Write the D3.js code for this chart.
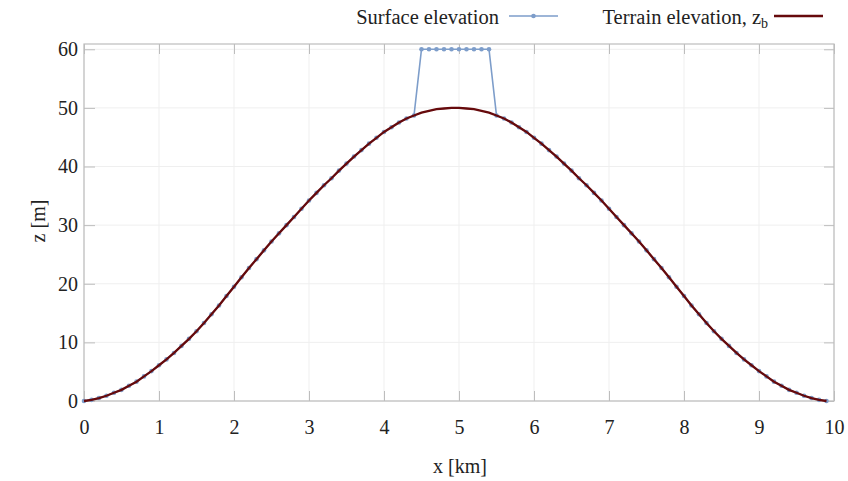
<!DOCTYPE html>
<html>
<head>
<meta charset="utf-8">
<script src="https://cdn.jsdelivr.net/npm/d3@7"></script>
<style>
  body { margin: 0; background: #fff; }
  text { font-family: "Liberation Serif", "Times New Roman", serif; fill: #222; }
</style>
</head>
<body>
<div id="chart"></div>
<script>
// x positions of the samples [km]
var xKm = [
  0.0, 0.1, 0.2, 0.3, 0.4, 0.5, 0.6, 0.7, 0.8, 0.9,
  1.0, 1.1, 1.2, 1.3, 1.4, 1.5, 1.6, 1.7, 1.8, 1.9,
  2.0, 2.1, 2.2, 2.3, 2.4, 2.5, 2.6, 2.7, 2.8, 2.9,
  3.0, 3.1, 3.2, 3.3, 3.4, 3.5, 3.6, 3.7, 3.8, 3.9,
  4.0, 4.1, 4.2, 4.3, 4.4, 4.5, 4.6, 4.7, 4.8, 4.9,
  5.0, 5.1, 5.2, 5.3, 5.4, 5.5, 5.6, 5.7, 5.8, 5.9,
  6.0, 6.1, 6.2, 6.3, 6.4, 6.5, 6.6, 6.7, 6.8, 6.9,
  7.0, 7.1, 7.2, 7.3, 7.4, 7.5, 7.6, 7.7, 7.8, 7.9,
  8.0, 8.1, 8.2, 8.3, 8.4, 8.5, 8.6, 8.7, 8.8, 8.9,
  9.0, 9.1, 9.2, 9.3, 9.4, 9.5, 9.6, 9.7, 9.8, 9.9
];

// terrain elevation z_b [m]
var terrain = [
  0.0, 0.2, 0.5, 0.9, 1.4, 1.9, 2.6, 3.3, 4.2, 5.1,
  6.1, 7.1, 8.2, 9.4, 10.6, 11.9, 13.3, 14.8, 16.3, 17.9,
  19.5, 21.1, 22.7, 24.2, 25.7, 27.2, 28.6, 30.0, 31.4, 32.8,
  34.2, 35.5, 36.8, 38.0, 39.3, 40.5, 41.7, 42.8, 43.9, 44.9,
  45.9, 46.7, 47.5, 48.2, 48.7, 49.2, 49.5, 49.8, 49.9, 50.0,
  50.0, 49.9, 49.8, 49.5, 49.2, 48.7, 48.2, 47.5, 46.7, 45.9,
  44.9, 43.9, 42.8, 41.7, 40.5, 39.3, 38.0, 36.8, 35.5, 34.2,
  32.8, 31.4, 30.0, 28.6, 27.2, 25.7, 24.2, 22.7, 21.1, 19.5,
  17.9, 16.3, 14.8, 13.3, 11.9, 10.6, 9.4, 8.2, 7.1, 6.1,
  5.1, 4.2, 3.3, 2.6, 1.9, 1.4, 0.9, 0.5, 0.2, 0.0
];

// surface elevation [m]
var surface = [
  0.0, 0.2, 0.5, 0.9, 1.4, 1.9, 2.6, 3.3, 4.2, 5.1,
  6.1, 7.1, 8.2, 9.4, 10.6, 11.9, 13.3, 14.8, 16.3, 17.9,
  19.5, 21.1, 22.7, 24.2, 25.7, 27.2, 28.6, 30.0, 31.4, 32.8,
  34.2, 35.5, 36.8, 38.0, 39.3, 40.5, 41.7, 42.8, 43.9, 44.9,
  45.9, 46.7, 47.5, 48.2, 48.7, 60, 60, 60, 60, 60,
  60, 60, 60, 60, 60, 48.7, 48.2, 47.5, 46.7, 45.9,
  44.9, 43.9, 42.8, 41.7, 40.5, 39.3, 38.0, 36.8, 35.5, 34.2,
  32.8, 31.4, 30.0, 28.6, 27.2, 25.7, 24.2, 22.7, 21.1, 19.5,
  17.9, 16.3, 14.8, 13.3, 11.9, 10.6, 9.4, 8.2, 7.1, 6.1,
  5.1, 4.2, 3.3, 2.6, 1.9, 1.4, 0.9, 0.5, 0.2, 0.0
];

var xTicks = [0, 1, 2, 3, 4, 5, 6, 7, 8, 9, 10];
var yTicks = [0, 10, 20, 30, 40, 50, 60];

var width = 848, height = 481;
var mLeft = 84, mRight = 834, mTop = 44, mBottom = 401;

var svg = d3.select("#chart").append("svg")
    .attr("width", width)
    .attr("height", height);

var x = d3.scaleLinear().domain([0, 10]).range([mLeft, mRight]);
var y = d3.scaleLinear().domain([0, 60.9]).range([mBottom, mTop]);

//grid
var grid = svg.append("g").attr("class", "grid");
grid.selectAll(".gx").data(xTicks).enter().append("line")
    .attr("x1", x).attr("x2", x)
    .attr("y1", mTop).attr("y2", mBottom)
    .attr("stroke", "#efefef");
grid.selectAll(".gy").data(yTicks).enter().append("line")
    .attr("y1", y).attr("y2", y)
    .attr("x1", mLeft).attr("x2", mRight)
    .attr("stroke", "#efefef");

//axes (ticks pointing inwards, on all four sides)
var tickCol = "#bdbdbd";
function styleAxis(g) {
    g.selectAll("path").remove();
    g.selectAll("line").attr("stroke", tickCol);
    g.selectAll("text").attr("font-size", "20px").attr("fill", "#222")
        .style("font-family", "'Liberation Serif', serif");
}
svg.append("g")
    .attr("transform", "translate(0," + mBottom + ")")
    .call(d3.axisBottom(x).tickValues(xTicks).tickSizeInner(-10).tickPadding(19).tickFormat(d3.format("d")))
    .call(styleAxis);
svg.append("g")
    .attr("transform", "translate(0," + mTop + ")")
    .call(d3.axisTop(x).tickValues(xTicks).tickSizeInner(-10).tickFormat(""))
    .call(styleAxis);
svg.append("g")
    .attr("transform", "translate(" + mLeft + ",0)")
    .call(d3.axisLeft(y).tickValues(yTicks).tickSizeInner(-11).tickPadding(6).tickFormat(d3.format("d")))
    .call(styleAxis);
svg.append("g")
    .attr("transform", "translate(" + mRight + ",0)")
    .call(d3.axisRight(y).tickValues(yTicks).tickSizeInner(-10).tickFormat(""))
    .call(styleAxis);

//frame
svg.append("rect")
    .attr("x", mLeft).attr("y", mTop)
    .attr("width", mRight - mLeft).attr("height", mBottom - mTop)
    .attr("fill", "none")
    .attr("stroke", tickCol)
    .attr("stroke-width", 1.2);

//series
var blue = "#7d9dca", red = "#660a0c";
var surfData = xKm.map(function(d, i) { return [d, surface[i]]; });
var terrData = xKm.map(function(d, i) { return [d, terrain[i]]; });
var line = d3.line().x(function(d) { return x(d[0]); }).y(function(d) { return y(d[1]); });

svg.append("path")
    .datum(surfData)
    .attr("d", line)
    .attr("fill", "none")
    .attr("stroke", blue)
    .attr("stroke-width", 1.6);
svg.append("g").selectAll("circle")
    .data(surfData).enter().append("circle")
    .attr("cx", function(d) { return x(d[0]); })
    .attr("cy", function(d) { return y(d[1]); })
    .attr("r", 2.3)
    .attr("fill", blue);

svg.append("path")
    .datum(terrData)
    .attr("d", line)
    .attr("fill", "none")
    .attr("stroke", red)
    .attr("stroke-width", 2.3);

//axis titles
svg.append("text")
    .attr("x", (mLeft + mRight) / 2 + 1)
    .attr("y", 473)
    .attr("text-anchor", "middle")
    .attr("font-size", "20px")
    .text("x [km]");
svg.append("text")
    .attr("transform", "translate(45,221) rotate(-90)")
    .attr("text-anchor", "middle")
    .attr("font-size", "20px")
    .text("z [m]");

//legenda
var legend = svg.append("g").attr("class", "legend");
legend.append("text")
    .attr("x", 499).attr("y", 24)
    .attr("text-anchor", "end")
    .attr("font-size", "20.5px")
    .text("Surface elevation");
legend.append("line")
    .attr("x1", 509).attr("x2", 558)
    .attr("y1", 16).attr("y2", 16)
    .attr("stroke", blue).attr("stroke-width", 1.6);
legend.append("circle")
    .attr("cx", 533.5).attr("cy", 16).attr("r", 2.3)
    .attr("fill", blue);

var t = legend.append("text")
    .attr("x", 768).attr("y", 24)
    .attr("text-anchor", "end")
    .attr("font-size", "20.5px");
t.append("tspan").text("Terrain elevation, z");
t.append("tspan").attr("dy", 4).attr("font-size", "14px").text("b");
legend.append("line")
    .attr("x1", 774).attr("x2", 823)
    .attr("y1", 16).attr("y2", 16)
    .attr("stroke", red).attr("stroke-width", 2.3);
</script>
</body>
</html>
